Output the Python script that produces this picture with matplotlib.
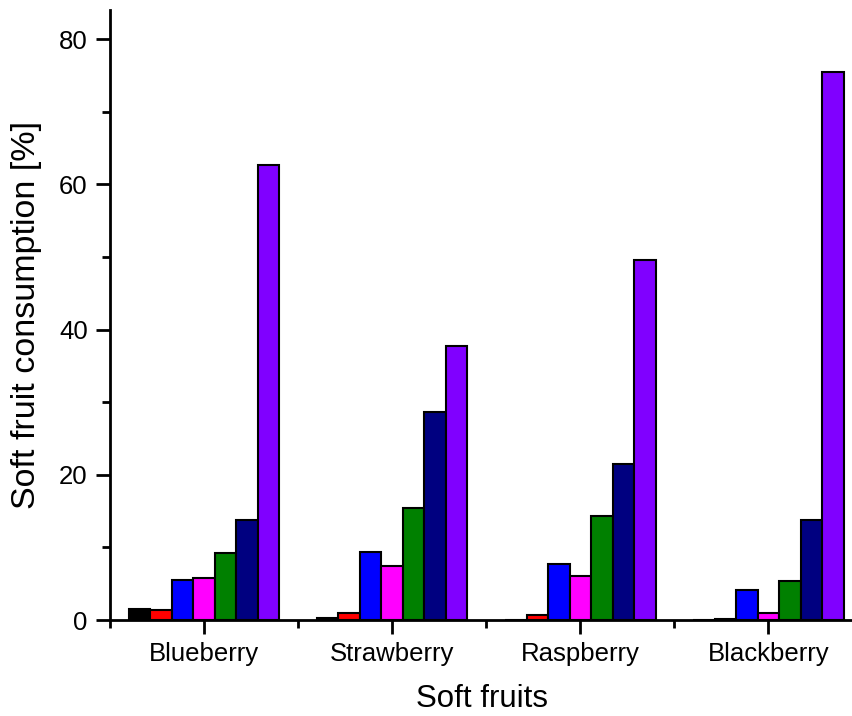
import matplotlib
matplotlib.use("agg")
import numpy as np
import matplotlib.pyplot as plt
from matplotlib.ticker import MultipleLocator

fruits = ["Blueberry", "Strawberry", "Raspberry", "Blackberry"]

# one list per series, values in %, order follows fruits
s1 = [1.5, 0.3, 0.0, 0.0]
s2 = [1.4, 1.0, 0.7, 0.2]
s3 = [5.5, 9.4, 7.7, 4.1]
s4 = [5.8, 7.4, 6.1, 1.0]
s5 = [9.2, 15.4, 14.3, 5.4]
s6 = [13.8, 28.6, 21.5, 13.8]
s7 = [62.7, 37.8, 49.6, 75.5]

series = [s1, s2, s3, s4, s5, s6, s7]
colors = ["#000000", "#ff0000", "#0000ff", "#ff00ff", "#008000", "#000080", "#8000ff"]

plt.rcParams["font.family"] = ["Liberation Sans", "DejaVu Sans"]

fig = plt.figure(figsize=(8.53, 7.16), dpi=100)
ax = fig.add_axes([0.129, 0.134, 0.871, 0.852])

x = np.arange(1, len(fruits) + 1)
w = 0.8 / len(series)
for i, vals in enumerate(series):
    off = (i - (len(series) - 1) / 2.0) * w
    ax.bar(x + off, vals, width=w, color=colors[i], edgecolor="black",
           linewidth=1.5)

ax.set_xlim(0.5, 4.45)
ax.set_ylim(0, 84)
ax.set_xticks(x)
ax.set_xticklabels(fruits)
ax.set_xticks(np.arange(0.5, 4.5, 1.0), minor=True)
ax.yaxis.set_major_locator(MultipleLocator(20))
ax.yaxis.set_minor_locator(MultipleLocator(10))

for side in ["top", "right"]:
    ax.spines[side].set_visible(False)
for side in ["left", "bottom"]:
    ax.spines[side].set_linewidth(2)

ax.tick_params(which="major", direction="out", length=10, width=2,
               labelsize=18.5, pad=6)
ax.tick_params(which="minor", direction="out", length=6, width=2)

ax.set_xlabel("Soft fruits", fontsize=22.5, labelpad=13)
ax.set_ylabel("Soft fruit consumption [%]", fontsize=24.5, labelpad=12)

plt.savefig("out.png", dpi=100)
